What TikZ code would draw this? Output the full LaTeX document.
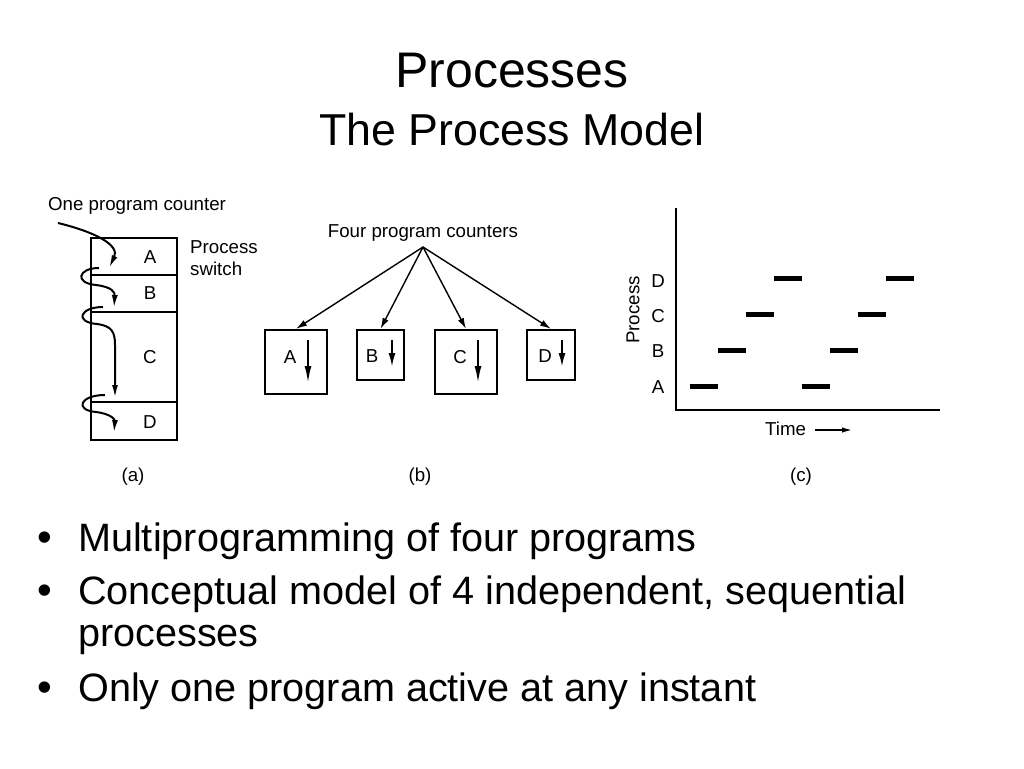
\documentclass[tikz,border=0pt]{standalone}
\usepackage{fontspec}
\setmainfont{Liberation Sans}
\usepackage{tikz}
\usetikzlibrary{arrows.meta}
\definecolor{myblack}{rgb}{0.000,0.000,0.000}
\definecolor{mywhite}{rgb}{1.000,1.000,1.000}
\tikzstyle{titletext}=[font=\fontsize{50}{60}\selectfont,anchor=base,inner sep=0]
\tikzstyle{subtitletext}=[font=\fontsize{44.7}{54}\selectfont,anchor=base,inner sep=0]
\tikzstyle{bullettext}=[font=\fontsize{39.6}{46}\selectfont,anchor=base west,inner sep=0]
\tikzstyle{bulletdot}=[font=\fontsize{42}{50}\selectfont,anchor=base,inner sep=0]
\tikzstyle{lbl}=[font=\fontsize{18.7}{22}\selectfont,inner sep=0]
\tikzstyle{cell}=[rectangle,draw=myblack,line width=2.2pt,minimum width=86pt,inner sep=0]
\tikzstyle{pbox}=[rectangle,draw=myblack,line width=2.2pt,inner sep=0]
\tikzstyle{pcarrow}=[line width=2pt,-{Latex[length=13pt,width=6pt]}]
\tikzstyle{fanarrow}=[line width=1.4pt,-{Latex[length=11pt,width=6.5pt]}]
\tikzstyle{flowarrow}=[line width=2pt,-{Latex[length=17pt,width=7pt]}]
\tikzstyle{runbar}=[line width=5pt]
\tikzstyle{axisline}=[line width=2.2pt]

\begin{document}
\begin{tikzpicture}[x=1pt,y=-1pt]
	\path [fill=mywhite,use as bounding box] (0,0) rectangle (1024,768);
	% title
	\node [style=titletext] (title) at (512,87) {Processes};
	\node [style=subtitletext] (subtitle) at (512,145) {The Process Model};

	% (a) one program counter
	\node [style=lbl,anchor=base west] (onepc) at (48,210) {One program counter};
	\node [style=lbl,anchor=base west] (switch1) at (190,253) {Process};
	\node [style=lbl,anchor=base west] (switch2) at (190,275) {switch};
	\node [style=cell,minimum height=37pt] (cellA) at (134,256.5) {};
	\node [style=cell,minimum height=37pt] (cellB) at (134,293.5) {};
	\node [style=cell,minimum height=90pt] (cellC) at (134,357) {};
	\node [style=cell,minimum height=38pt] (cellD) at (134,421) {};
	\node [style=lbl] (labA) at (150,257) {A};
	\node [style=lbl] (labB) at (150,293) {B};
	\node [style=lbl] (labC) at (150,357) {C};
	\node [style=lbl] (labD) at (150,422) {D};
	\coordinate (a0) at (58,223);
	\coordinate (a1) at (109,268);
	\coordinate (s1) at (99,268);
	\coordinate (t1) at (114,308);
	\coordinate (s2) at (103,307);
	\coordinate (t2) at (115,398);
	\coordinate (s3) at (105,395);
	\coordinate (t3) at (114,433);
	\draw [style=pcarrow] (a0) .. controls (95,232) and (120,245) .. (a1);
	\draw [style=pcarrow] (s1) .. controls (78,268) and (74,283) .. (96,285) .. controls (112,287) and (115,292) .. (t1);
	\draw [style=pcarrow] (s2) .. controls (80,307) and (74,322) .. (97,324) .. controls (112,326) and (115,332) .. (115,345) -- (t2);
	\draw [style=pcarrow] (s3) .. controls (80,395) and (74,410) .. (96,412) .. controls (112,414) and (115,420) .. (t3);
	\node [style=lbl] (capA) at (133,477) {(a)};

	% (b) four program counters
	\node [style=lbl,anchor=base] (fourpc) at (423,237) {Four program counters};
	\coordinate (pc) at (423,247);
	\node [style=pbox,minimum width=62pt,minimum height=64pt] (boxA) at (296,362) {};
	\node [style=pbox,minimum width=47pt,minimum height=50pt] (boxB) at (380.5,355) {};
	\node [style=pbox,minimum width=62pt,minimum height=64pt] (boxC) at (466,362) {};
	\node [style=pbox,minimum width=48pt,minimum height=50pt] (boxD) at (551,355) {};
	\draw [style=fanarrow] (pc) to (boxA.north);
	\draw [style=fanarrow] (pc) to (boxB.north);
	\draw [style=fanarrow] (pc) to (boxC.north);
	\draw [style=fanarrow] (pc) to (boxD.north);
	\node [style=lbl] (pA) at (290,357) {A};
	\node [style=lbl] (pB) at (372,356) {B};
	\node [style=lbl] (pC) at (460,357) {C};
	\node [style=lbl] (pD) at (545,356) {D};
	\draw [style=flowarrow] (308,340) to (308,383);
	\draw [style=flowarrow,-{Latex[length=14pt,width=7pt]}] (392,340) to (392,367);
	\draw [style=flowarrow] (478,340) to (478,383);
	\draw [style=flowarrow,-{Latex[length=14pt,width=7pt]}] (562,340) to (562,367);
	\node [style=lbl] (capB) at (420,477) {(b)};

	% (c) one process at a time
	\coordinate (ytop) at (676,208);
	\coordinate (orig) at (676,410);
	\coordinate (xend) at (940,410);
	\draw [style=axisline] (ytop) -- (orig) -- (xend);
	\node [style=lbl,rotate=90] (procax) at (633,310) {Process};
	\node [style=lbl] (yD) at (658,281) {D};
	\node [style=lbl] (yC) at (658,316) {C};
	\node [style=lbl] (yB) at (658,351) {B};
	\node [style=lbl] (yA) at (658,387) {A};
	\draw [style=runbar] (690,386) -- (718,386);
	\draw [style=runbar] (718,350) -- (746,350);
	\draw [style=runbar] (746,314) -- (774,314);
	\draw [style=runbar] (774,278) -- (802,278);
	\draw [style=runbar] (802,386) -- (830,386);
	\draw [style=runbar] (830,350) -- (858,350);
	\draw [style=runbar] (858,314) -- (886,314);
	\draw [style=runbar] (886,278) -- (914,278);
	\node [style=lbl,anchor=base west] (time) at (765,435) {Time};
	\coordinate (tarrow) at (852,430);
	\draw [line width=1.4pt,-{Latex[length=10pt,width=5.5pt]}] (815,430) -- (tarrow);
	\node [style=lbl] (capC) at (801,477) {(c)};

	% bullets
	\node [style=bulletdot] (d1) at (45,551) {\textbullet};
	\node [style=bullettext] (b1) at (78,551) {Multiprogramming of four programs};
	\node [style=bulletdot] (d2) at (45,604) {\textbullet};
	\node [style=bullettext] (b2) at (78,604) {Conceptual model of 4 independent, sequential};
	\node [style=bullettext] (b2b) at (78,646) {processes};
	\node [style=bulletdot] (d3) at (45,701) {\textbullet};
	\node [style=bullettext] (b3) at (78,701) {Only one program active at any instant};
\end{tikzpicture}
\end{document}
